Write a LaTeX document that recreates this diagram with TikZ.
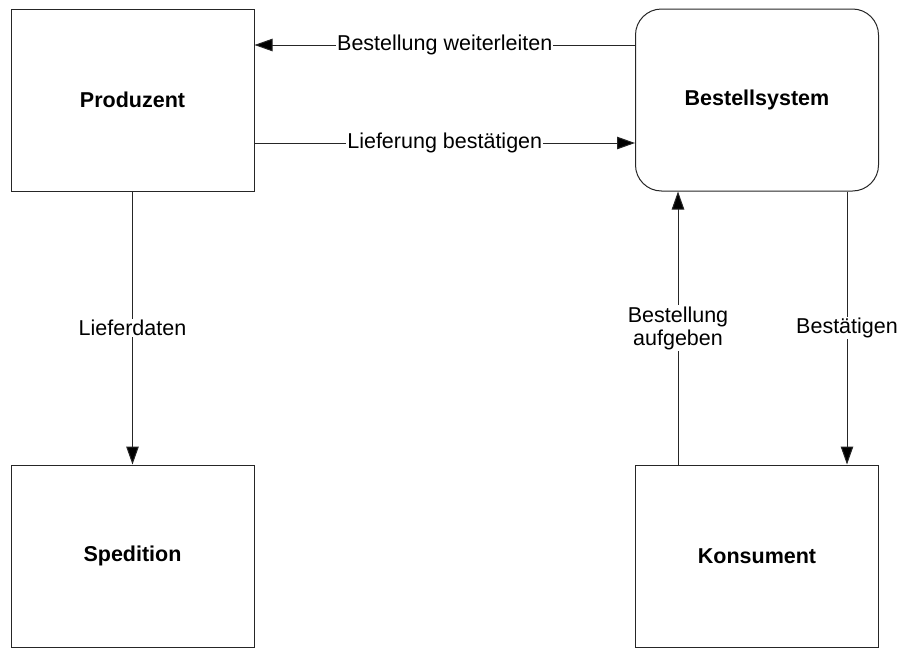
\documentclass[tikz,border=0pt]{standalone}
\usepackage{fontspec}
\setmainfont{Liberation Sans}
\usetikzlibrary{arrows.meta}
\begin{document}
\begin{tikzpicture}[x=1pt,y=-1pt,
  ent/.style={draw=black!85, line width=1pt, minimum width=243pt, minimum height=182pt,
    inner sep=0pt, font=\fontsize{21.5}{24}\selectfont\bfseries},
  sys/.style={ent, rounded corners=26pt},
  flow/.style={draw=black!85, line width=1pt, -{Triangle[length=18pt,width=12.5pt,fill=black]}},
  lbl/.style={fill=white, inner sep=1pt, font=\fontsize{21.5}{23}\selectfont, align=center}]
  \useasboundingbox (0,0) rectangle (903,648);
  % entities
  \node[ent] (prod) at (132.5,100) {Produzent};
  \node[sys] (best) at (757,100) {Bestellsystem};
  \node[ent] (sped) at (132.5,556) {Spedition};
  \node[ent] (kons) at (757,556) {Konsument};
  % data flows
  \draw[flow] (best.west |- 0,45) -- node[lbl] {Bestellung weiterleiten} (prod.east |- 0,45);
  \draw[flow] (prod.east |- 0,143) -- node[lbl] {Lieferung bestätigen} (best.west |- 0,143);
  \draw[flow] (prod.south) -- node[lbl] {Lieferdaten} (sped.north);
  \draw[flow] (kons.north -| 678,0) -- node[lbl] {Bestellung\\aufgeben} (best.south -| 678,0);
  \draw[flow] (best.south -| 847,0) -- node[lbl] {Bestätigen} (kons.north -| 847,0);
\end{tikzpicture}
\end{document}
